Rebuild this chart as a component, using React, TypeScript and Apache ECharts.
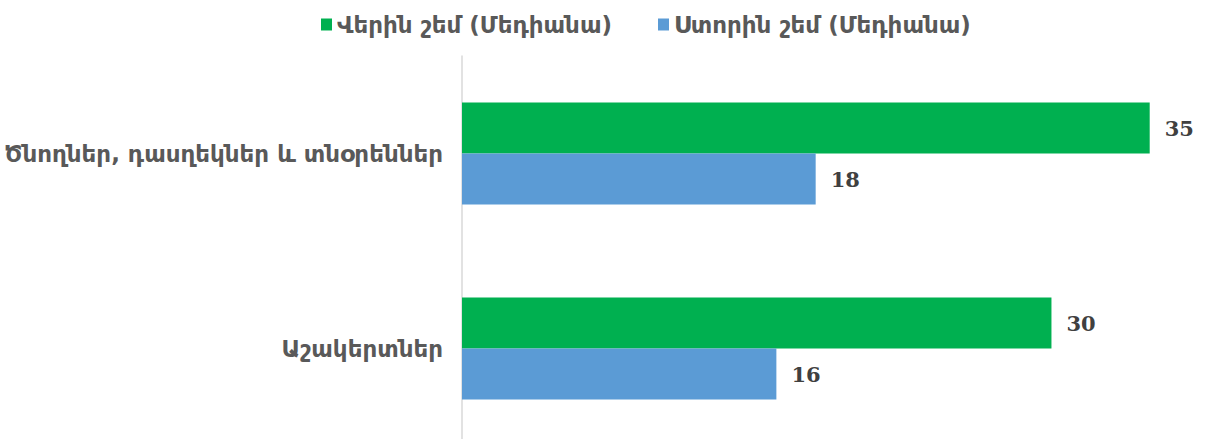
import React, { useEffect, useRef } from "react";
import * as echarts from "echarts";

const categories = ["Ծնողներ, դասղեկներ և տնօրեններ", "Աշակերտներ"];
const seriesNames = ["Վերին շեմ (Մեդիանա)", "Ստորին շեմ (Մեդիանա)"];
const upperValues = [35, 30];
const lowerValues = [18, 16];
const colors = ["#00B050", "#5B9BD5"];

export default function App() {
  const ref = useRef<HTMLDivElement>(null);
  useEffect(() => {
    const chart = echarts.init(ref.current!, null, { renderer: "svg" });
    const label = {
      show: true,
      position: "right",
      distance: 15,
      color: "#404040",
      fontFamily: "DejaVu Serif",
      fontWeight: "bold",
      fontSize: 21,
    };
    chart.setOption({
      animation: false,
      legend: {
        top: 8,
        left: 316,
        itemWidth: 11,
        itemHeight: 12,
        itemGap: 46,
        icon: "rect",
        textStyle: { color: "#595959", fontFamily: "DejaVu Sans", fontWeight: "bold", fontSize: 23 },
        data: seriesNames,
      },
      grid: { left: 462, top: 56, width: 727, height: 390, containLabel: false, outerBoundsMode: "none" },
      xAxis: {
        type: "value",
        min: 0,
        max: 37,
        show: false,
      },
      yAxis: {
        type: "category",
        inverse: true,
        data: categories,
        axisLine: { show: true, lineStyle: { color: "#D9D9D9", width: 1.5 } },
        axisTick: { show: false },
        axisLabel: { color: "#595959", fontFamily: "DejaVu Sans", fontWeight: "bold", fontSize: 23, margin: 19 },
      },
      series: [
        {
          name: seriesNames[0],
          type: "bar",
          data: upperValues,
          barWidth: 51,
          barGap: "0%",
          itemStyle: { color: colors[0] },
          label,
        },
        {
          name: seriesNames[1],
          type: "bar",
          data: lowerValues,
          barWidth: 51,
          barGap: "0%",
          itemStyle: { color: colors[1] },
          label,
        },
      ],
    });
    return () => chart.dispose();
  }, []);
  return (
    <div
      ref={ref}
      style={{ position: "fixed", left: 0, top: 0, width: 1207, height: 439, background: "#fff" }}
    />
  );
}
